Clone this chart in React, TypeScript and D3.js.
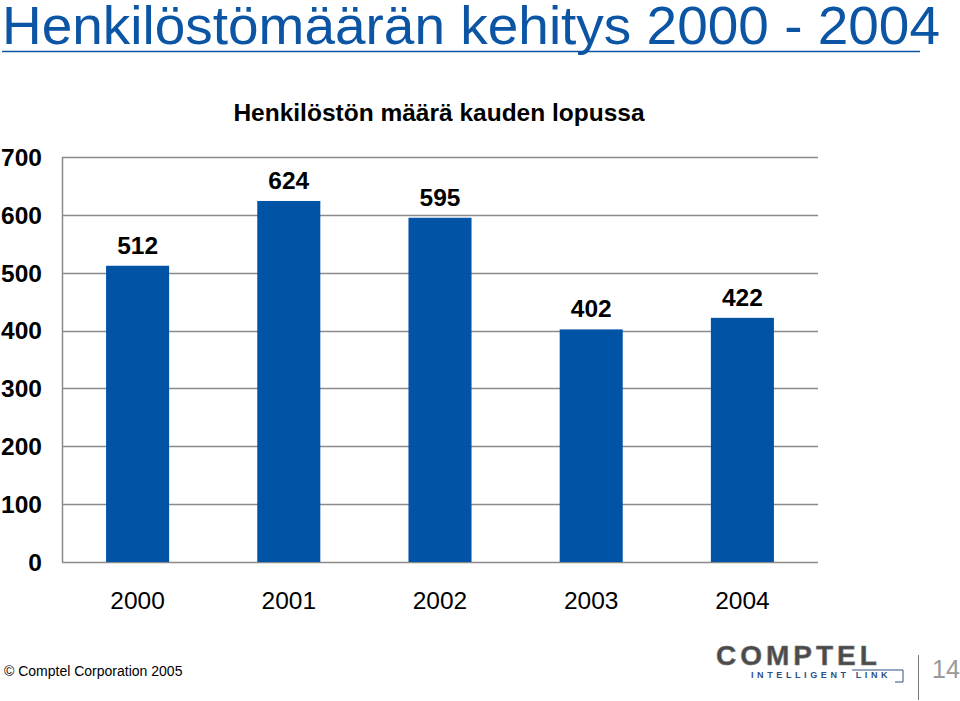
import React from "react";
import * as d3 from "d3";

const categories = ["2000", "2001", "2002", "2003", "2004"];
const values = [512, 624, 595, 402, 422];
const yTicks = [0, 100, 200, 300, 400, 500, 600, 700];
const title = "Henkilöstömäärän kehitys 2000 - 2004";
const chartTitle = "Henkilöstön määrä kauden lopussa";
const footer = "© Comptel Corporation 2005";
const pageNumber = "14";

const W = 960;
const H = 701;
const plot = { left: 62, right: 818, top: 157, bottom: 562 };
const BAR = "#0153A5";
const BLUE = "#0B55A4";

export default function App() {
  const x = d3
    .scaleBand<string>()
    .domain(categories)
    .range([plot.left, plot.right])
    .paddingInner(0.583)
    .paddingOuter(0.2915);
  const y = d3.scaleLinear().domain([0, 700]).range([plot.bottom, plot.top]);
  const font = "Arial, 'Liberation Sans', Helvetica, sans-serif";

  return (
    <svg
      width={W}
      height={H}
      viewBox={`0 0 ${W} ${H}`}
      style={{ position: "absolute", left: 0, top: 0, background: "#fff" }}
      fontFamily={font}
    >
      <rect x={0} y={0} width={W} height={H} fill="#fff" />
      {/* Title */}
      <text x={2} y={44} fontSize={54} fill={BLUE} textLength={938} lengthAdjust="spacingAndGlyphs">
        {title}
      </text>
      <line x1={2} x2={920} y1={51.5} y2={51.5} stroke={BLUE} strokeWidth={1.5} />

      {/* Chart title */}
      <text
        x={439}
        y={121}
        fontSize={24.5}
        fontWeight="bold"
        textAnchor="middle"
        fill="#000"
      >
        {chartTitle}
      </text>

      {/* Gridlines */}
      {yTicks.map((t) => (
        <line
          key={"g" + t}
          x1={plot.left}
          x2={plot.right}
          y1={Math.round(y(t)) + 0.5}
          y2={Math.round(y(t)) + 0.5}
          stroke="#8a8a8a"
          strokeWidth={1.5}
        />
      ))}
      <line
        x1={plot.left + 0.5}
        x2={plot.left + 0.5}
        y1={y(700)}
        y2={y(0)}
        stroke="#8a8a8a"
        strokeWidth={1.5}
      />

      {/* Y labels */}
      {yTicks.map((t) => (
        <text
          key={"y" + t}
          x={42}
          y={y(t)}
          dy="0.36em"
          fontSize={24.5}
          fontWeight="bold"
          textAnchor="end"
          fill="#000"
        >
          {t}
        </text>
      ))}

      {/* Bars */}
      {values.map((v, i) => (
        <rect
          key={"b" + i}
          x={x(categories[i])}
          y={y(v)}
          width={x.bandwidth()}
          height={y(0) - y(v)}
          fill={BAR}
        />
      ))}

      {/* Value labels */}
      {values.map((v, i) => (
        <text
          key={"v" + i}
          x={(x(categories[i]) as number) + x.bandwidth() / 2}
          y={y(v) - 12}
          fontSize={24.5}
          fontWeight="bold"
          textAnchor="middle"
          fill="#000"
        >
          {v}
        </text>
      ))}

      {/* X labels */}
      {categories.map((c) => (
        <text
          key={"x" + c}
          x={(x(c) as number) + x.bandwidth() / 2}
          y={609}
          fontSize={24.5}
          textAnchor="middle"
          fill="#000"
        >
          {c}
        </text>
      ))}

      {/* Footer */}
      <text x={4} y={676} fontSize={14} fill="#000">
        {footer}
      </text>

      {/* Logo */}
      <text
        x={716}
        y={665}
        fontSize={28}
        fontWeight="bold"
        fill="#4a4a4a"
        stroke="#777"
        strokeWidth={0.6}
        letterSpacing={4}
      >
        COMPTEL
      </text>
      <text
        x={751}
        y={678}
        fontSize={9}
        fontWeight="bold"
        fill="#2f4f86"
        letterSpacing={3.6}
      >
        INTELLIGENT LINK
      </text>
      <polyline
        points="852,670 903,670 903,682 895,682"
        fill="none"
        stroke="#2f4f86"
        strokeWidth={1}
      />
      <line x1={918.5} x2={918.5} y1={655} y2={700} stroke="#777" strokeWidth={1} />
      <text x={932} y={678} fontSize={25} fill="#999">
        {pageNumber}
      </text>
    </svg>
  );
}
